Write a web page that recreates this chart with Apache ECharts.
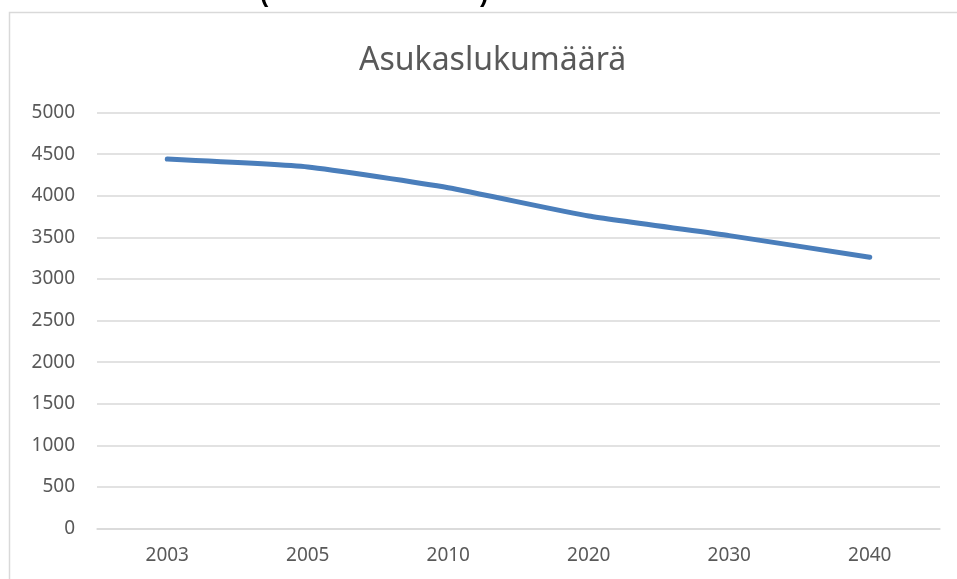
<!DOCTYPE html>
<html>
<head>
<meta charset="utf-8">
<title>Asukaslukumäärä</title>
<script src="https://cdn.jsdelivr.net/npm/echarts@6/dist/echarts.min.js"></script>
<style>
html, body {
  margin: 0;
  padding: 0;
  background: #fff;
}
#main {
  width: 957px;
  height: 579px;
}
</style>
</head>
<body>
<div id="main"></div>
<script>
// vuodet ja asukasluvut
var years = ['2003', '2005', '2010', '2020', '2030', '2040']
var population = [4440, 4345, 4095, 3755, 3520, 3260]
var yTicks = [0, 500, 1000, 1500, 2000, 2500, 3000, 3500, 4000, 4500, 5000]

var textColor = '#595959'
var gridColor = '#d9d9d9'
var font = '"Noto Sans", "Open Sans", sans-serif'

var myChart = echarts.init(document.getElementById('main'))

var options = {
  backgroundColor: '#fff',
  animation: false,
  title: {
    text: 'Asukaslukumäärä',
    left: 354,
    top: 40,
    textStyle: {
      color: textColor,
      fontFamily: font,
      fontWeight: 'normal',
      fontSize: 32
    }
  },
  // kaavion reunus ja sivun tekstin reunat
  graphic: [
    {
      type: 'rect',
      shape: { x: 9.5, y: 12.5, width: 960, height: 600 },
      style: { fill: 'none', stroke: gridColor, lineWidth: 1.5 },
      silent: true
    },
    {
      type: 'text',
      left: 260,
      top: -17,
      style: { text: '(', fill: '#000', font: 'bold 25px "Liberation Sans", sans-serif' }
    },
    {
      type: 'text',
      left: 480,
      top: -17,
      style: { text: ')', fill: '#000', font: 'bold 25px "Liberation Sans", sans-serif' }
    }
  ],
  grid: {
    left: 97,
    right: 17,
    top: 112.5,
    bottom: 50.5
  },
  xAxis: {
    type: 'category',
    data: years,
    boundaryGap: true,
    axisLine: { show: true, lineStyle: { color: gridColor, width: 1.5 } },
    axisTick: { show: false },
    axisLabel: {
      color: textColor,
      fontFamily: font,
      fontSize: 19,
      margin: 18
    }
  },
  yAxis: {
    type: 'value',
    min: yTicks[0],
    max: yTicks[yTicks.length - 1],
    interval: yTicks[1] - yTicks[0],
    axisLine: { show: false },
    axisTick: { show: false },
    splitLine: { lineStyle: { color: gridColor, width: 1.5 } },
    axisLabel: {
      color: textColor,
      fontFamily: font,
      fontSize: 19,
      margin: 22,
      formatter: function (v) { return String(v) }
    }
  },
  series: [
    {
      name: 'Asukaslukumäärä',
      type: 'line',
      data: population,
      smooth: 0.15,
      symbol: 'none',
      lineStyle: {
        color: '#4a7ebb',
        width: 5,
        cap: 'round',
        join: 'round'
      }
    }
  ]
}

myChart.setOption(options)
</script>
</body>
</html>
